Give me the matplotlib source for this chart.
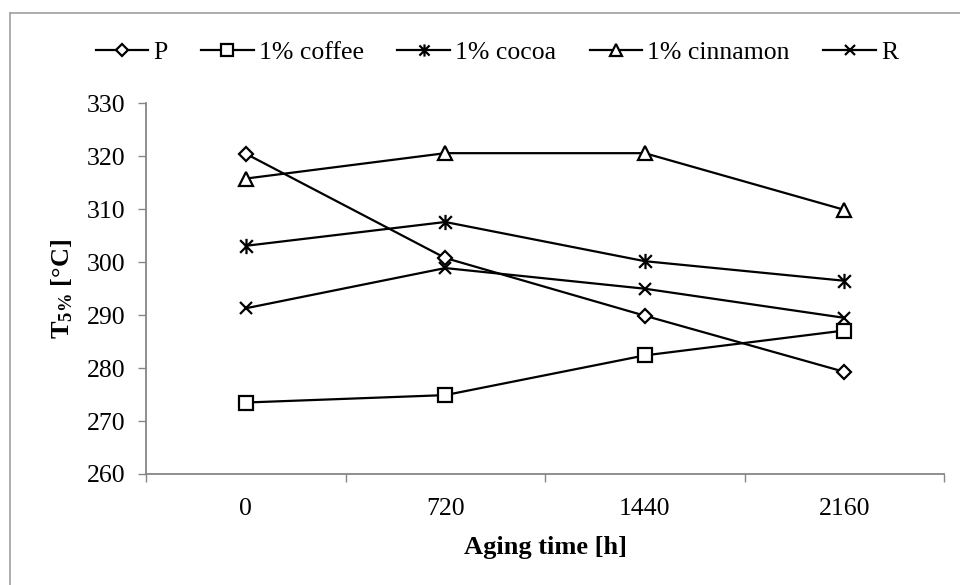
import matplotlib
matplotlib.use("Agg")
import matplotlib.pyplot as plt
from matplotlib.path import Path
from matplotlib.lines import Line2D
import numpy as np

plt.rcParams['font.family'] = ['Liberation Serif', 'DejaVu Serif']
plt.rcParams['mathtext.fontset'] = 'custom'
plt.rcParams['mathtext.rm'] = 'Liberation Serif'
plt.rcParams['mathtext.bf'] = 'Liberation Serif:bold'

# datos
tiempos = ["0", "720", "1440", "2160"]
p_vals = [320.5, 300.8, 289.9, 279.3]
cafe_vals = [273.5, 274.9, 282.4, 287.1]
cacao_vals = [303.1, 307.6, 300.2, 296.5]
canela_vals = [315.8, 320.6, 320.6, 309.9]
r_vals = [291.3, 298.9, 295.0, 289.5]

series = ["P", "1% coffee", "1% cocoa", "1% cinnamon", "R"]

# marcador asterisco tipo Excel (x + linea vertical)
asterisco = Path([(-0.5, -0.5), (0.5, 0.5), (-0.5, 0.5), (0.5, -0.5), (0, -0.6), (0, 0.6)],
                 [Path.MOVETO, Path.LINETO, Path.MOVETO, Path.LINETO, Path.MOVETO, Path.LINETO])

estilos = [
    dict(marker='D', markersize=7.5),
    dict(marker='s', markersize=10),
    dict(marker=asterisco, markersize=11),
    dict(marker='^', markersize=10.5),
    dict(marker='x', markersize=9),
]

fig = plt.figure(figsize=(9.6, 5.85), dpi=100)
ax = fig.add_axes([146/960, 1-474/585, (944-146)/960, (474-103.4)/585])

x = np.arange(len(tiempos))
datos = [p_vals, cafe_vals, cacao_vals, canela_vals, r_vals]
for nombre, vals, est in zip(series, datos, estilos):
    ax.plot(x, vals, color='black', lw=1.6, markerfacecolor='white',
            markeredgecolor='black', markeredgewidth=1.6, label=nombre, **est)

ax.set_ylim(260, 330)
ax.set_yticks(np.arange(260, 331, 10))
ax.set_xlim(-0.5, 3.5)
ax.set_xticks(np.arange(-0.5, 3.6, 1))
ax.set_xticklabels([])
ax.set_xticks(x, minor=True)
ax.set_xticklabels(tiempos, minor=True)
ax.tick_params(axis='x', which='minor', length=0, pad=17, labelsize=18.5)
ax.tick_params(axis='x', which='major', length=6, width=1, color='#868686', direction='out')
ax.tick_params(axis='y', length=6, width=1, color='#868686', direction='out', labelsize=18.5, pad=9)

for s in ['top', 'right']:
    ax.spines[s].set_visible(False)
for s in ['left', 'bottom']:
    ax.spines[s].set_color('#868686')
    ax.spines[s].set_linewidth(1.3)

ax.set_xlabel("Aging time [h]", fontsize=19, fontweight='bold', labelpad=12)
ax.set_ylabel(r"$\mathbf{T_{5\%}}$ [°C]", fontsize=19, fontweight='bold', labelpad=8)

fig.legend(loc='center', bbox_to_anchor=(497/960, 1-53/585), ncol=5, frameon=False,
           fontsize=18.5, handlelength=2.05, handletextpad=0.2, columnspacing=1.3,
           markerscale=0.8)

# borde exterior del grafico (solo izquierda y arriba visibles)
fig.add_artist(Line2D([10/960, 10/960], [0, 1-13/585], color='#a0a0a0', lw=1.2,
                      transform=fig.transFigure))
fig.add_artist(Line2D([10/960, 1], [1-13/585, 1-13/585], color='#a0a0a0', lw=1.2,
                      transform=fig.transFigure))

plt.savefig('out.png', dpi=100)
